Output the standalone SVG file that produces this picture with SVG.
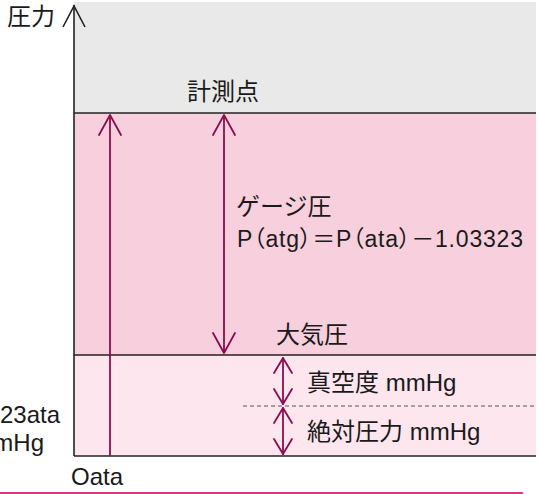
<svg xmlns="http://www.w3.org/2000/svg" width="539" height="494" viewBox="0 0 539 494">
<style>
text{font-family:"Liberation Sans","Noto Sans CJK JP",sans-serif;fill:#1a1a1a}
.t{font-size:24px}
.f{font-size:23px;font-feature-settings:"palt"}
.ax{stroke:#222;stroke-width:1.6;fill:none}
.ar{stroke:#8c0d4f;stroke-width:1.8;fill:none;stroke-linecap:round;stroke-linejoin:round}
</style>
<g id="zones">
<rect x="74" y="2" width="462" height="111" fill="#e9e9e9"/>
<rect x="74" y="113" width="462" height="242" fill="#f8cfdd"/>
<rect x="74" y="355" width="462" height="101" fill="#fde6ee"/>
<line class="ax" x1="74" y1="113" x2="536" y2="113"/>
<line class="ax" x1="74" y1="355" x2="536" y2="355"/>
<line class="ax" x1="74" y1="456" x2="536" y2="456"/>
<line x1="243" y1="406" x2="536" y2="406" stroke="#888" stroke-width="1.3" stroke-dasharray="4 3"/>
<line x1="0" y1="493" x2="522" y2="493" stroke="#d8367e" stroke-width="2.2" stroke-linecap="round"/>
</g>
<g id="axis">
<line class="ax" x1="74" y1="5" x2="74" y2="456"/>
<polyline class="ax" points="63,27 74,6 85,27"/>
<text class="t" x="7" y="25">圧力</text>
</g>
<g id="connectors">
<line class="ar" x1="110" y1="116" x2="110" y2="455"/>
<polyline class="ar" points="99,135 110,115 121,135"/>
<line class="ar" x1="224" y1="116" x2="224" y2="352"/>
<polyline class="ar" points="213,135 224,115 235,135"/>
<polyline class="ar" points="213,333 224,353 235,333"/>
<line class="ar" x1="283" y1="358" x2="283" y2="404"/>
<polyline class="ar" points="274,373 283,358 292,373"/>
<polyline class="ar" points="274,389 283,404 292,389"/>
<line class="ar" x1="283" y1="408" x2="283" y2="454"/>
<polyline class="ar" points="274,423 283,408 292,423"/>
<polyline class="ar" points="274,439 283,454 292,439"/>
</g>
<g id="keisokuten"><text class="t" x="187" y="100">計測点</text></g>
<g id="gauge">
<text class="t" x="236" y="215">ゲージ圧</text>
<text class="f" x="237" y="247" textLength="286" lengthAdjust="spacing">P（atg）＝P（ata）－1.03323</text>
</g>
<g id="taikiatsu"><text class="t" x="276" y="343">大気圧</text></g>
<g id="shinkudo"><text class="t" x="307" y="391">真空度 mmHg</text></g>
<g id="zettai"><text class="t" x="307" y="440">絶対圧力 mmHg</text></g>
<g id="zero"><text class="t" x="71" y="485">Oata</text></g>
<g id="left"><text class="t" x="60" y="423" text-anchor="end">23ata</text><text class="t" x="44" y="451" text-anchor="end">mHg</text></g>
</svg>
